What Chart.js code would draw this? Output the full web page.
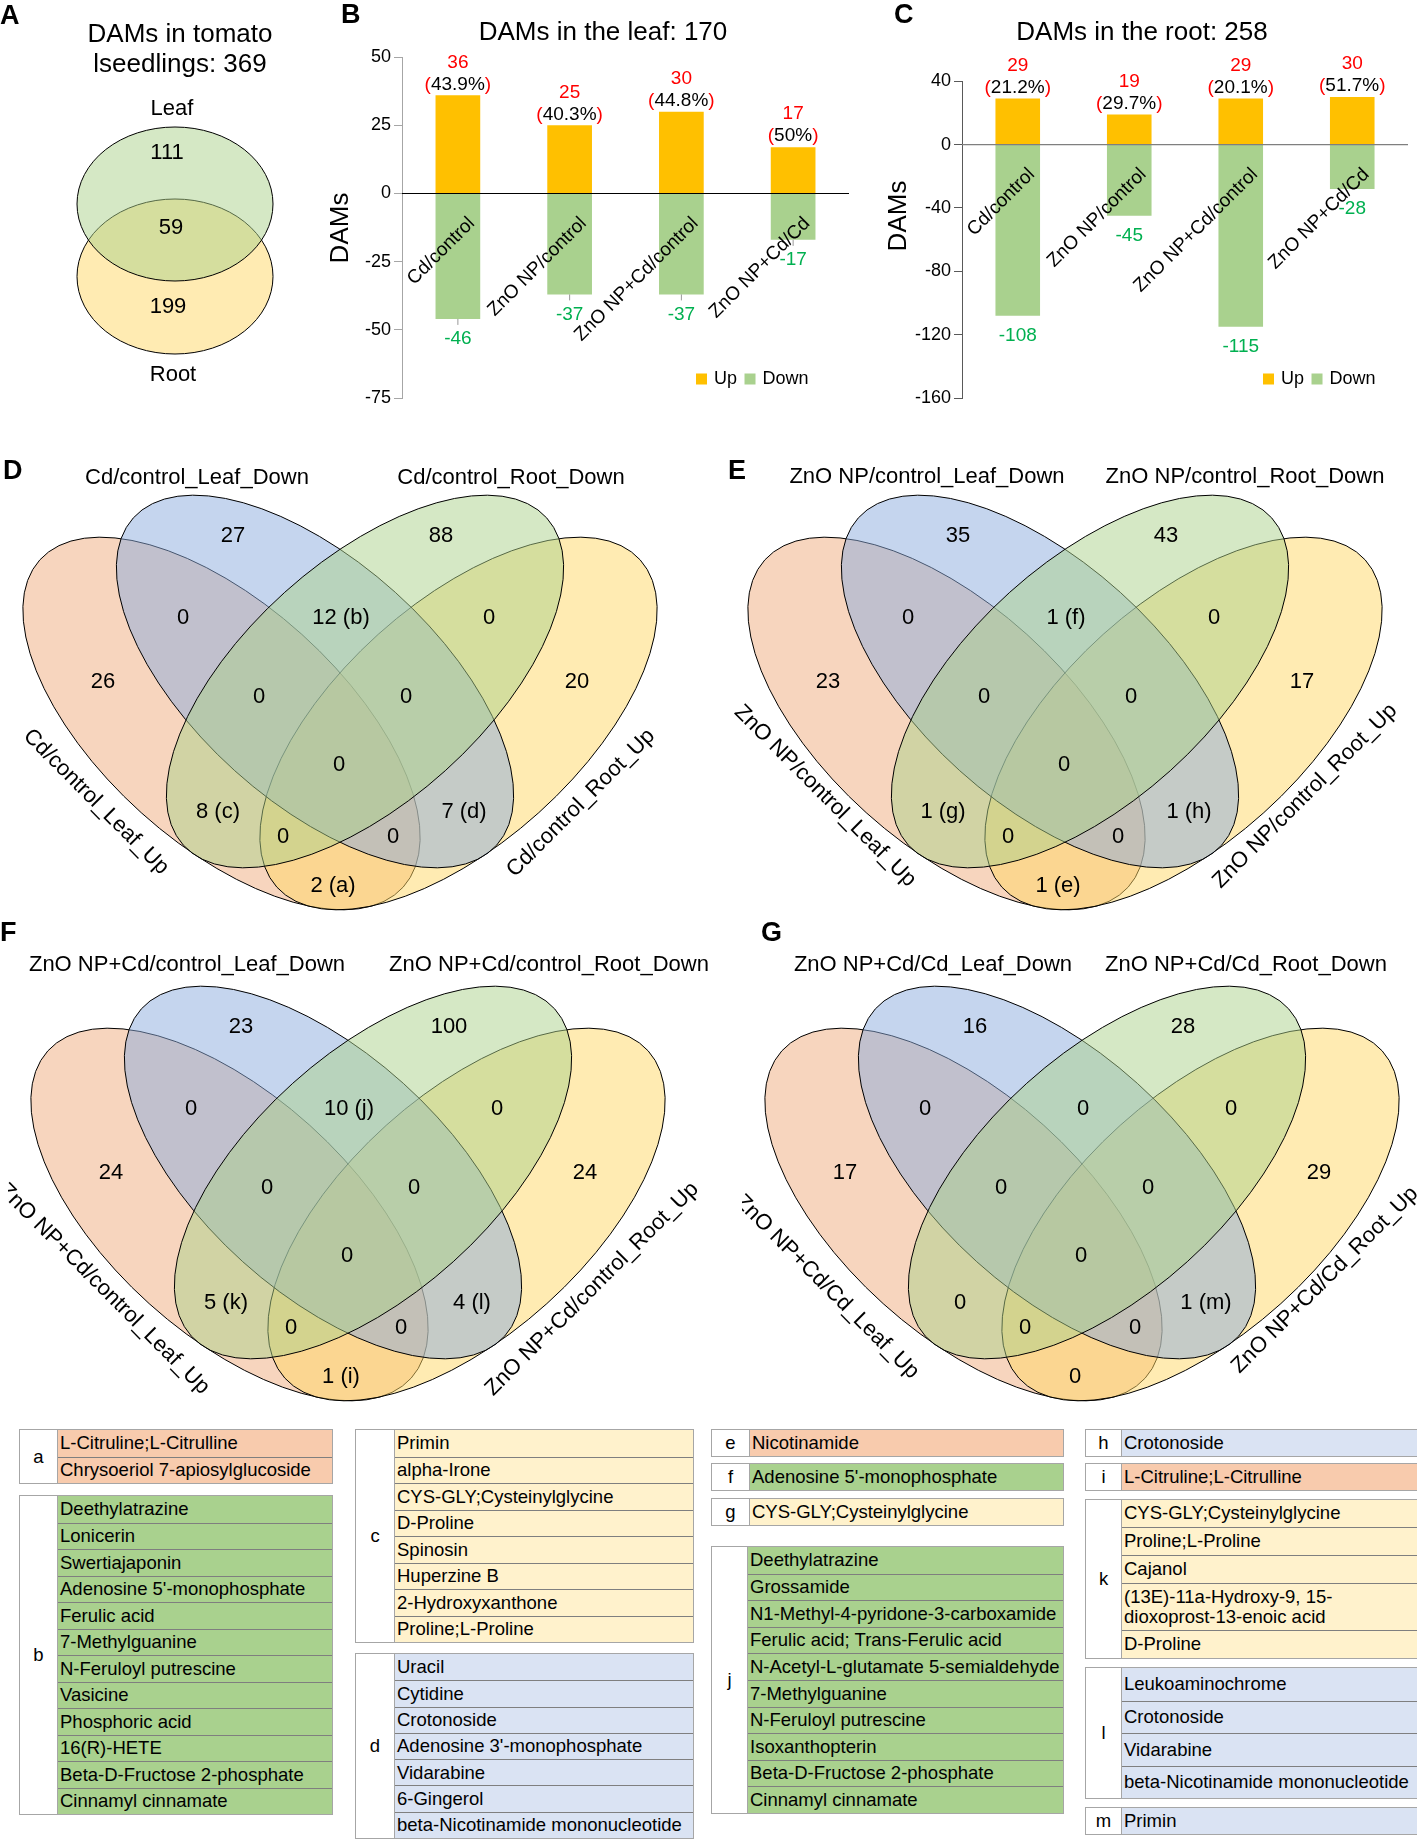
<!DOCTYPE html>
<html>
<head>
<meta charset="utf-8">
<title>DAMs in tomato seedlings</title>
<script src="https://cdn.jsdelivr.net/npm/chart.js@4.4.1/dist/chart.umd.min.js"></script>
<style>
  html, body { margin: 0; padding: 0; background: #fff; }
  #page { position: relative; width: 1417px; height: 1840px; overflow: hidden;
          font-family: "Liberation Sans", Arial, sans-serif; color: #000; }
  .box { position: absolute; }
  .tag { position: absolute; font-weight: bold; font-size: 27px; line-height: 1; }
  .tbl { position: absolute; display: flex; border: 1px solid #a6a6a6; background: #fff; }
  .tbl .key { display: flex; align-items: center; justify-content: center; font-size: 18.5px; border-right: 1px solid #a6a6a6; }
  .tbl .rows { flex: 1; }
  .tbl .row { display: flex; align-items: center; padding-left: 2px; font-size: 18.5px; line-height: 1.1;
              white-space: pre; box-sizing: border-box; border-top: 1px solid #7f7f7f; }
  .tbl .row:first-child { border-top: none; }
</style>
</head>
<body>
<div id="page">
  <div class="box" style="left:0;top:0;width:330px;height:420px"><canvas id="vennA"></canvas></div>
  <div class="box" style="left:330px;top:0;width:530px;height:420px"><canvas id="leafBar"></canvas></div>
  <div class="box" style="left:860px;top:0;width:557px;height:420px"><canvas id="rootBar"></canvas></div>
  <div class="box" style="left:0;top:440px;width:700px;height:490px"><canvas id="vennD"></canvas></div>
  <div class="box" style="left:725px;top:440px;width:700px;height:490px"><canvas id="vennE"></canvas></div>
  <div class="box" style="left:8px;top:931px;width:700px;height:490px"><canvas id="vennF"></canvas></div>
  <div class="box" style="left:742px;top:931px;width:700px;height:490px"><canvas id="vennG"></canvas></div>

  <div class="tag" style="left:0;top:2px">A</div>
  <div class="tag" style="left:341px;top:1px">B</div>
  <div class="tag" style="left:894px;top:1px">C</div>
  <div class="tag" style="left:3px;top:457px">D</div>
  <div class="tag" style="left:728px;top:457px">E</div>
  <div class="tag" style="left:0;top:919px">F</div>
  <div class="tag" style="left:761px;top:919px">G</div>
</div>

<script>
const FONT = '"Liberation Sans", Arial, Helvetica, sans-serif';

// ---------- data ----------
// panel A: leaf only, leaf & root, root only
const pairSets = ['Leaf', 'Root'];
const pairCounts = [111, 59, 199];

// panels B and C
const comparisons = ['Cd/control', 'ZnO NP/control', 'ZnO NP+Cd/control', 'ZnO NP+Cd/Cd'];
const leafUp = [36, 25, 30, 17];
const leafDown = [-46, -37, -37, -17];
const leafUpShare = ['43.9%', '40.3%', '44.8%', '50%'];
const leafTicks = [-75, -50, -25, 0, 25, 50];
const rootUp = [29, 19, 29, 30];
const rootDown = [-108, -45, -115, -28];
const rootUpShare = ['21.2%', '29.7%', '20.1%', '51.7%'];
const rootTicks = [-160, -120, -80, -40, 0, 40];

// panels D-G; set 1 = Leaf_Up, 2 = Leaf_Down, 3 = Root_Down, 4 = Root_Up
const regionKeys = ['1', '2', '3', '4', '12', '13', '14', '23', '24', '34', '123', '124', '134', '234', '1234'];
const setsD = ['Cd/control_Leaf_Up', 'Cd/control_Leaf_Down', 'Cd/control_Root_Down', 'Cd/control_Root_Up'];
const countsD = [26, 27, 88, 20, 0, 8, 2, 12, 7, 0, 0, 0, 0, 0, 0];
const tagsD = ['', '', '', '', '', 'c', 'a', 'b', 'd', '', '', '', '', '', ''];
const setsE = ['ZnO NP/control_Leaf_Up', 'ZnO NP/control_Leaf_Down', 'ZnO NP/control_Root_Down', 'ZnO NP/control_Root_Up'];
const countsE = [23, 35, 43, 17, 0, 1, 1, 1, 1, 0, 0, 0, 0, 0, 0];
const tagsE = ['', '', '', '', '', 'g', 'e', 'f', 'h', '', '', '', '', '', ''];
const setsF = ['ZnO NP+Cd/control_Leaf_Up', 'ZnO NP+Cd/control_Leaf_Down', 'ZnO NP+Cd/control_Root_Down', 'ZnO NP+Cd/control_Root_Up'];
const countsF = [24, 23, 100, 24, 0, 5, 1, 10, 4, 0, 0, 0, 0, 0, 0];
const tagsF = ['', '', '', '', '', 'k', 'i', 'j', 'l', '', '', '', '', '', ''];
const setsG = ['ZnO NP+Cd/Cd_Leaf_Up', 'ZnO NP+Cd/Cd_Leaf_Down', 'ZnO NP+Cd/Cd_Root_Down', 'ZnO NP+Cd/Cd_Root_Up'];
const countsG = [17, 16, 28, 29, 0, 0, 0, 0, 1, 0, 0, 0, 0, 0, 0];
const tagsG = ['', '', '', '', '', '', '', '', 'm', '', '', '', '', '', ''];

// metabolite tables
const tableA = ['L-Citruline;L-Citrulline', 'Chrysoeriol 7-apiosylglucoside'];
const tableB = ['Deethylatrazine', 'Lonicerin', 'Swertiajaponin', "Adenosine 5'-monophosphate", 'Ferulic acid',
  '7-Methylguanine', 'N-Feruloyl putrescine', 'Vasicine', 'Phosphoric acid', '16(R)-HETE',
  'Beta-D-Fructose 2-phosphate', 'Cinnamyl cinnamate'];
const tableC = ['Primin', 'alpha-Irone', 'CYS-GLY;Cysteinylglycine', 'D-Proline', 'Spinosin', 'Huperzine B',
  '2-Hydroxyxanthone', 'Proline;L-Proline'];
const tableD = ['Uracil', 'Cytidine', 'Crotonoside', "Adenosine 3'-monophosphate", 'Vidarabine', '6-Gingerol',
  'beta-Nicotinamide mononucleotide'];
const tableE = ['Nicotinamide'];
const tableF = ["Adenosine 5'-monophosphate"];
const tableG = ['CYS-GLY;Cysteinylglycine'];
const tableH = ['Crotonoside'];
const tableI = ['L-Citruline;L-Citrulline'];
const tableJ = ['Deethylatrazine', 'Grossamide', 'N1-Methyl-4-pyridone-3-carboxamide', 'Ferulic acid; Trans-Ferulic acid',
  'N-Acetyl-L-glutamate 5-semialdehyde', '7-Methylguanine', 'N-Feruloyl putrescine', 'Isoxanthopterin',
  'Beta-D-Fructose 2-phosphate', 'Cinnamyl cinnamate'];
const tableK = ['CYS-GLY;Cysteinylglycine', 'Proline;L-Proline', 'Cajanol',
  '(13E)-11a-Hydroxy-9, 15-\ndioxoprost-13-enoic acid', 'D-Proline'];
const tableL = ['Leukoaminochrome', 'Crotonoside', 'Vidarabine', 'beta-Nicotinamide mononucleotide'];
const tableM = ['Primin'];

// ---------- colours ----------
const setFill = ['rgba(239,171,125,0.5)', 'rgba(139,171,221,0.5)', 'rgba(171,209,139,0.5)', 'rgba(255,215,101,0.5)'];
const upColor = '#FFC000';
const downColor = '#A9D18E';
const peachRow = '#F8CBAD', greenRow = '#A9D18E', yellowRow = '#FFF2CC', blueRow = '#DAE3F3';

const sum = arr => arr.reduce((a, b) => a + b, 0);

// an empty scatter chart whose hidden linear axes span the canvas in px units
function sketchChart(id, w, h, draw) {
  return new Chart(document.getElementById(id), {
    type: 'scatter',
    data: { datasets: [] },
    options: {
      animation: false, responsive: true, maintainAspectRatio: false,
      layout: { padding: 0 },
      events: [],
      plugins: { legend: { display: false }, tooltip: { enabled: false } },
      scales: {
        x: { type: 'linear', display: false, min: 0, max: w },
        y: { type: 'linear', display: false, min: 0, max: h, reverse: true }
      }
    },
    plugins: [{ id: 'sketch', afterDraw: draw }]
  });
}

function text(ctx, s, x, y, size, color, rot) {
  ctx.save();
  ctx.font = `${size}px ${FONT}`;
  ctx.fillStyle = color || '#000';
  ctx.textAlign = 'center';
  ctx.textBaseline = 'middle';
  ctx.translate(x, y);
  if (rot) ctx.rotate(rot);
  ctx.fillText(s, 0, 0);
  ctx.restore();
}

function ellipse(ctx, x, y, rx, ry, rot, fill) {
  ctx.beginPath();
  ctx.ellipse(x, y, rx, ry, rot, 0, Math.PI * 2);
  ctx.fillStyle = fill;
  ctx.fill();
  ctx.strokeStyle = '#000';
  ctx.lineWidth = 1;
  ctx.stroke();
}

// ---------- A: two-set venn ----------
sketchChart('vennA', 330, 420, chart => {
  const { ctx, scales: { x, y } } = chart;
  const k = x.getPixelForValue(1) - x.getPixelForValue(0);
  ellipse(ctx, x.getPixelForValue(175), y.getPixelForValue(276.5), 98 * k, 77.5 * k, 0, setFill[3]);
  ellipse(ctx, x.getPixelForValue(175), y.getPixelForValue(204), 98 * k, 77 * k, 0, setFill[2]);
  text(ctx, 'DAMs in tomato', x.getPixelForValue(180), y.getPixelForValue(35), 26);
  text(ctx, 'lseedlings: ' + sum(pairCounts), x.getPixelForValue(180), y.getPixelForValue(65), 26);
  text(ctx, pairSets[0], x.getPixelForValue(172), y.getPixelForValue(109), 22);
  text(ctx, pairSets[1], x.getPixelForValue(173), y.getPixelForValue(375), 22);
  text(ctx, String(pairCounts[0]), x.getPixelForValue(167), y.getPixelForValue(153), 22);
  text(ctx, String(pairCounts[1]), x.getPixelForValue(171), y.getPixelForValue(228), 22);
  text(ctx, String(pairCounts[2]), x.getPixelForValue(168), y.getPixelForValue(307), 22);
});

// ---------- B, C: up / down bars ----------
function barNotes(shares, o) {
  return {
    id: 'barNotes',
    afterDatasetsDraw(chart) {
      const { ctx, chartArea, scales: { x, y } } = chart;
      const zero = y.getPixelForValue(0);
      ctx.save();
      // zero line on top of the bars
      ctx.strokeStyle = o.zeroColor;
      ctx.lineWidth = 1.2;
      ctx.beginPath();
      ctx.moveTo(chartArea.left, zero);
      ctx.lineTo(chartArea.right, zero);
      ctx.stroke();

      ctx.font = `19px ${FONT}`;
      ctx.textBaseline = 'middle';
      const up = chart.getDatasetMeta(0).data;
      const down = chart.getDatasetMeta(1).data;
      up.forEach((bar, i) => {
        ctx.textAlign = 'center';
        ctx.fillStyle = '#ff0000';
        ctx.fillText(String(chart.data.datasets[0].data[i]), bar.x, bar.y - 33);
        const wb = ctx.measureText('(').width, wi = ctx.measureText(shares[i]).width;
        let x0 = bar.x - (2 * wb + wi) / 2;
        ctx.textAlign = 'left';
        ctx.fillText('(', x0, bar.y - 11);
        ctx.fillStyle = '#000';
        ctx.fillText(shares[i], x0 + wb, bar.y - 11);
        ctx.fillStyle = '#ff0000';
        ctx.fillText(')', x0 + wb + wi, bar.y - 11);
      });
      down.forEach((bar, i) => {
        ctx.textAlign = 'center';
        ctx.fillStyle = '#00B050';
        ctx.fillText(String(chart.data.datasets[1].data[i]), bar.x, bar.y + 20);
        if (o.leaders) {
          ctx.strokeStyle = '#999';
          ctx.lineWidth = 1;
          ctx.beginPath();
          ctx.moveTo(bar.x, bar.y);
          ctx.lineTo(bar.x, bar.y + 6);
          ctx.stroke();
        }
      });
      // category names, slanted, hanging under the zero line
      ctx.fillStyle = '#000';
      ctx.textAlign = 'right';
      chart.data.labels.forEach((lab, i) => {
        ctx.save();
        ctx.translate(x.getPixelForValue(i) + 14, zero + 27);
        ctx.rotate(-Math.PI / 4);
        ctx.fillText(lab, 0, 0);
        ctx.restore();
      });
      ctx.restore();
    },
    afterDraw(chart) {
      const { ctx } = chart;
      // y axis title
      text(ctx, 'DAMs', o.yTitle[0], o.yTitle[1], 26, '#000', -Math.PI / 2);
      // legend inside the plot, bottom right
      ctx.save();
      ctx.font = `18px ${FONT}`;
      ctx.textBaseline = 'middle';
      ctx.textAlign = 'left';
      let lx = o.legend[0];
      const ly = o.legend[1];
      chart.data.datasets.forEach(ds => {
        ctx.fillStyle = ds.backgroundColor;
        ctx.fillRect(lx, ly - 5.5, 11, 11);
        lx += 18;
        ctx.fillStyle = '#000';
        ctx.fillText(ds.label, lx, ly);
        lx += ctx.measureText(ds.label).width + 7.5;
      });
      ctx.restore();
    }
  };
}

function barChart(id, title, up, down, shares, ticks, o) {
  return new Chart(document.getElementById(id), {
    type: 'bar',
    data: {
      labels: comparisons,
      datasets: [
        { label: 'Up', data: up, backgroundColor: upColor },
        { label: 'Down', data: down, backgroundColor: downColor }
      ]
    },
    options: {
      animation: false, responsive: true, maintainAspectRatio: false,
      events: [],
      layout: { padding: { left: o.padLeft, right: o.padRight, top: 0, bottom: 22 } },
      datasets: { bar: { barPercentage: 0.4, categoryPercentage: 1 } },
      plugins: {
        legend: { display: false },
        tooltip: { enabled: false },
        title: {
          display: true, text: title, color: '#000',
          font: { family: FONT, size: 26, weight: 'normal' },
          padding: { top: 17, bottom: o.titleGap }
        }
      },
      scales: {
        x: { display: false, stacked: true },
        y: {
          stacked: true,
          min: ticks[0], max: ticks[ticks.length - 1],
          afterFit: s => { s.width = o.axisWidth; },
          ticks: { stepSize: ticks[1] - ticks[0], color: '#000', padding: 3, font: { family: FONT, size: 18 } },
          grid: { drawOnChartArea: false, tickLength: 8, tickColor: o.axisColor },
          border: { color: o.axisColor, width: 1 }
        }
      }
    },
    plugins: [barNotes(shares, o)]
  });
}

barChart('leafBar', 'DAMs in the leaf: ' + (pairCounts[0] + pairCounts[1]), leafUp, leafDown, leafUpShare, leafTicks, {
  padLeft: 27, padRight: 11, axisWidth: 45, titleGap: 9, axisColor: '#a6a6a6', zeroColor: '#000',
  leaders: true, yTitle: [10.5, 228], legend: [366, 379]
});
barChart('rootBar', 'DAMs in the root: ' + (pairCounts[1] + pairCounts[2]), rootUp, rootDown, rootUpShare, rootTicks, {
  padLeft: 16, padRight: 9, axisWidth: 86, titleGap: 33, axisColor: '#595959', zeroColor: '#7f7f7f',
  leaders: false, yTitle: [39, 216], legend: [403, 379]
});

// ---------- D-G: four-set venns ----------
// ellipse frame shared by the four panels (panel px), index = set
const quadShapes = [
  { cx: 221.5, cy: 283.5, rot: 42 },
  { cx: 315, cy: 241.5, rot: 42 },
  { cx: 365, cy: 241.5, rot: -42 },
  { cx: 458.5, cy: 283.5, rot: -42 }
];
const quadAxes = [244.5, 120];
const quadOrder = [0, 3, 1, 2];
const regionXY = {
  '1': [103, 242], '2': [233, 96], '3': [441, 96], '4': [577, 242],
  '12': [183, 178], '13': [218, 372], '14': [333, 446], '23': [341, 178], '24': [464, 372], '34': [489, 178],
  '123': [259, 257], '124': [393, 397], '134': [283, 397], '234': [406, 257], '1234': [339, 325]
};

function quadVenn(id, sets, counts, tags, lab) {
  sketchChart(id, 700, 490, chart => {
    const { ctx, scales: { x, y } } = chart;
    const k = x.getPixelForValue(1) - x.getPixelForValue(0);
    quadOrder.forEach(s => {
      const e = quadShapes[s];
      ellipse(ctx, x.getPixelForValue(e.cx), y.getPixelForValue(e.cy), quadAxes[0] * k, quadAxes[1] * k,
        e.rot * Math.PI / 180, setFill[s]);
    });
    regionKeys.forEach((key, i) => {
      const [rx, ry] = regionXY[key];
      const s = tags[i] ? `${counts[i]} (${tags[i]})` : String(counts[i]);
      text(ctx, s, x.getPixelForValue(rx), y.getPixelForValue(ry), 22);
    });
    text(ctx, sets[1], x.getPixelForValue(lab.top[0][0]), y.getPixelForValue(lab.top[0][1]), 22);
    text(ctx, sets[2], x.getPixelForValue(lab.top[1][0]), y.getPixelForValue(lab.top[1][1]), 22);
    text(ctx, sets[0], x.getPixelForValue(lab.side[0][0]), y.getPixelForValue(lab.side[0][1]), 22, '#000', Math.PI / 4);
    text(ctx, sets[3], x.getPixelForValue(lab.side[1][0]), y.getPixelForValue(lab.side[1][1]), 22, '#000', -Math.PI / 4);
  });
}

quadVenn('vennD', setsD, countsD, tagsD, { top: [[197, 38], [511, 38]], side: [[96, 362], [581, 363]] });
quadVenn('vennE', setsE, countsE, tagsE, { top: [[202, 37], [520, 37]], side: [[100, 356], [580, 356]] });
quadVenn('vennF', setsF, countsF, tagsF, { top: [[179, 34], [541, 34]], side: [[96, 358], [584, 358]] });
quadVenn('vennG', setsG, countsG, tagsG, { top: [[191, 34], [504, 34]], side: [[85, 356], [583, 349]] });

// ---------- metabolite tables ----------
const page = document.getElementById('page');
function addTable(key, items, color, left, top, width, keyW, rowH) {
  const wrap = document.createElement('div');
  wrap.className = 'tbl';
  Object.assign(wrap.style, { left: left + 'px', top: top + 'px', width: width + 'px' });
  const k = document.createElement('div');
  k.className = 'key';
  k.style.width = keyW + 'px';
  k.textContent = key;
  const rows = document.createElement('div');
  rows.className = 'rows';
  items.forEach((t, i) => {
    const r = document.createElement('div');
    r.className = 'row';
    r.style.height = (Array.isArray(rowH) ? rowH[i] : rowH) + 'px';
    r.style.background = color;
    r.textContent = t;
    rows.appendChild(r);
  });
  wrap.append(k, rows);
  page.appendChild(wrap);
}

addTable('a', tableA, peachRow, 19, 1429, 312, 37, 26.5);
addTable('b', tableB, greenRow, 19, 1495, 312, 37, 26.5);
addTable('c', tableC, yellowRow, 355, 1429, 337, 38, 26.5);
addTable('d', tableD, blueRow, 355, 1653, 337, 38, 26.3);
addTable('e', tableE, peachRow, 711, 1429, 351, 37, 25.5);
addTable('f', tableF, greenRow, 711, 1463, 351, 37, 25.5);
addTable('g', tableG, yellowRow, 711, 1498, 351, 37, 25.5);
addTable('j', tableJ, greenRow, 711, 1546, 351, 35, 26.6);
addTable('h', tableH, blueRow, 1085, 1429, 331, 35, 25.5);
addTable('i', tableI, peachRow, 1085, 1463, 331, 35, 25.5);
addTable('k', tableK, yellowRow, 1085, 1499, 331, 35, [27, 28, 28, 47, 28]);
addTable('l', tableL, blueRow, 1085, 1667, 331, 35, 32.5);
addTable('m', tableM, blueRow, 1085, 1807, 331, 35, 26);
</script>
</body>
</html>
